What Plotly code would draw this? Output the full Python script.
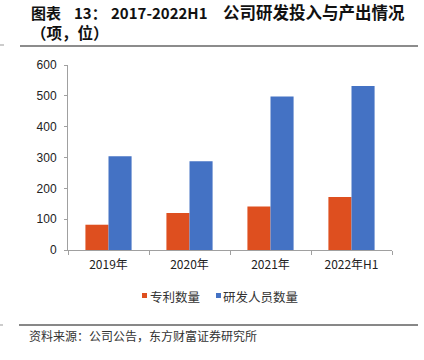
import plotly.graph_objects as go

categories = ["2019年", "2020年", "2021年", "2022年H1"]
patents = [82, 120, 141, 172]
rd_staff = [304, 288, 498, 532]
series_names = ["专利数量", "研发人员数量"]
series_colors = ["#DE4F1F", "#4472C4"]
y_ticks = [0, 100, 200, 300, 400, 500, 600]

W, H = 424, 360
# plot area in pixels
L, R, T, B = 68, 392, 65, 250

def px(x):
    return (x - L) / (R - L)

def py(y):
    return (B - y) / (B - T)

fig = go.Figure()
for name, vals, col in zip(series_names, [patents, rd_staff], series_colors):
    fig.add_trace(go.Bar(x=categories, y=vals, name=name,
                         marker=dict(color=col, line=dict(width=0))))

cjk = "Noto Sans CJK SC"
axis_col = "#A0A0A0"
fig.update_layout(
    width=W, height=H,
    margin=dict(l=L, r=W - R, t=T, b=H - B, pad=0),
    paper_bgcolor="white", plot_bgcolor="white",
    barmode="group", bargap=0.43, bargroupgap=0,
    showlegend=False,
    xaxis=dict(showline=True, linecolor=axis_col, linewidth=1, ticks="outside",
               tickson="boundaries", ticklen=4, tickcolor=axis_col,
               ticklabelstandoff=4,
               tickfont=dict(family=cjk, size=12, color="#222222"),
               showgrid=False, zeroline=False),
    yaxis=dict(range=[0, 600], tickvals=y_ticks, showline=True, linecolor=axis_col,
               linewidth=1, ticks="outside", ticklen=3, tickcolor=axis_col,
               ticklabelstandoff=5,
               tickfont=dict(family="Liberation Sans", size=12, color="#222222"),
               showgrid=False, zeroline=False),
)

def note(text, x, y, size, bold=False, color="#111111", family=cjk):
    t = f"<b>{text}</b>" if bold else text
    fig.add_annotation(text=t, xref="paper", yref="paper", x=px(x), y=py(y),
                       xanchor="left", yanchor="middle", showarrow=False,
                       borderpad=0, borderwidth=0,
                       font=dict(family=family, size=size, color=color))

# rules
fig.add_shape(type="line", xref="paper", yref="paper", x0=px(20), x1=px(418),
              y0=py(46), y1=py(46), line=dict(color="#8C8C8C", width=2))
fig.add_shape(type="line", xref="paper", yref="paper", x0=px(19), x1=px(418),
              y0=py(325), y1=py(325), line=dict(color="#111111", width=1))
fig.add_shape(type="line", xref="paper", yref="paper", x0=px(0), x1=px(4),
              y0=py(45), y1=py(45), line=dict(color="#999999", width=1))
fig.add_shape(type="line", xref="paper", yref="paper", x0=px(0), x1=px(3),
              y0=py(325), y1=py(325), line=dict(color="#999999", width=1))

# title
note("图表", 31, 12, 15, bold=True)
note("13：", 74, 12, 15, bold=True)
note("2017-2022H1", 111, 12, 15, bold=True)
note("公司研发投入与产出情况", 223, 12, 16.5, bold=True)
note("（项，位）", 31, 32, 15.5, bold=True)

# legend (manual, compact like the source)
leg_sq = [(142, 147), (216, 221)]
leg_tx = [151, 224]
for (x0, x1), tx, name, col in zip(leg_sq, leg_tx, series_names, series_colors):
    fig.add_shape(type="rect", xref="paper", yref="paper", x0=px(x0), x1=px(x1),
                  y0=py(298), y1=py(293), fillcolor=col, line=dict(width=0))
    note(name, tx - 1, 296, 12.5, color="#333333")

# source
note("资料来源：公司公告，东方财富证券研究所", 29, 335, 12, color="#333333")

fig.write_html("out.html", config={"displayModeBar": False},
               post_script="document.body.style.margin='0';document.body.style.overflow='hidden';")
